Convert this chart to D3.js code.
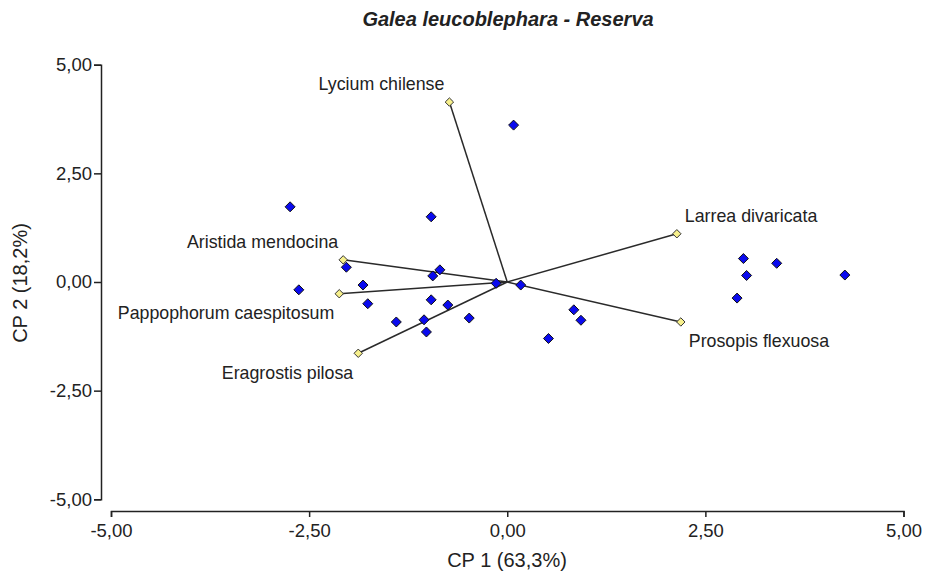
<!DOCTYPE html>
<html>
<head>
<meta charset="utf-8">
<script src="https://cdn.jsdelivr.net/npm/d3@7/dist/d3.min.js"></script>
<style>
body{margin:0;background:#fff;}
text{font-family:"Liberation Sans",Arial,sans-serif;fill:#222;}
</style>
</head>
<body>
<svg id="chart" width="925" height="574"></svg>
<script>
const title = "Galea leucoblephara - Reserva";
const xTitle = "CP 1 (63,3%)";
const yTitle = "CP 2 (18,2%)";
const xTicks = [-5, -2.5, 0, 2.5, 5];
const yTicks = [-5, -2.5, 0, 2.5, 5];

// observation scores (CP1, CP2)
const obsX = [0.08,-2.74,-0.96,-2.03,-0.85,-0.94,-2.63,-1.82,-0.14,0.17,-1.76,-0.96,-0.75,-0.48,-1.40,-1.05,-1.02,0.52,0.84,0.93,2.98,3.40,3.02,4.26,2.90];
const obsY = [3.61,1.73,1.50,0.34,0.28,0.14,-0.18,-0.07,-0.03,-0.07,-0.50,-0.41,-0.53,-0.83,-0.92,-0.87,-1.15,-1.30,-0.64,-0.88,0.54,0.43,0.15,0.16,-0.37];

// variable vectors
const varNames = ["Lycium chilense","Aristida mendocina","Pappophorum caespitosum","Eragrostis pilosa","Larrea divaricata","Prosopis flexuosa"];
const varX = [-0.73,-2.07,-2.12,-1.88,2.14,2.19];
const varY = [4.14,0.51,-0.27,-1.64,1.11,-0.92];

const fmt = v => d3.format(".2f")(v).replace(".", ",").replace("\u2212", "-");

const svg = d3.select("#chart");
const x = d3.scaleLinear().domain([-5, 5]).range([111, 903.5]);
const y = d3.scaleLinear().domain([-5, 5]).range([499.3, 64.7]);

// axes
const xAxis = svg.append("g").attr("transform", "translate(0,511)")
  .call(d3.axisBottom(x).tickValues(xTicks).tickFormat(fmt).tickSizeOuter(0).tickSize(6).tickPadding(4));
const yAxis = svg.append("g").attr("transform", "translate(101,0)")
  .call(d3.axisLeft(y).tickValues(yTicks).tickFormat(fmt).tickSizeOuter(0).tickSize(7).tickPadding(2));
[xAxis, yAxis].forEach(a => {
  a.select(".domain").attr("stroke", "#222").attr("stroke-width", 1.5);
  a.selectAll(".tick line").attr("stroke", "#222").attr("stroke-width", 1.5);
  a.selectAll(".tick text").style("font-size", "18.5px").attr("fill", "#222");
});
xAxis.selectAll(".tick text").attr("dy", "0.85em");

// titles
svg.append("text").attr("x", 508).attr("y", 26).attr("text-anchor", "middle")
  .style("font-size", "20px").style("font-weight", "bold").style("font-style", "italic").text(title);
svg.append("text").attr("x", 507).attr("y", 567).attr("text-anchor", "middle")
  .style("font-size", "20px").text(xTitle);
svg.append("text").attr("transform", "translate(27,283) rotate(-90)").attr("text-anchor", "middle")
  .style("font-size", "20px").text(yTitle);

// vectors
const vars = varNames.map((n, i) => ({name: n, x: varX[i], y: varY[i]}));
svg.append("g").selectAll("line").data(vars).join("line")
  .attr("x1", x(0)).attr("y1", y(0))
  .attr("x2", d => x(d.x)).attr("y2", d => y(d.y))
  .attr("stroke", "#2a2a2a").attr("stroke-width", 1.5);

const diamond = s => `M0,${-s}L${s},0L0,${s}L${-s},0Z`;

// observations
const obs = obsX.map((v, i) => ({x: v, y: obsY[i]}));
svg.append("g").selectAll("path").data(obs).join("path")
  .attr("d", diamond(5))
  .attr("transform", d => `translate(${x(d.x)},${y(d.y)})`)
  .attr("fill", "#0a0aee").attr("stroke", "#111").attr("stroke-width", 1);

// vector end markers
svg.append("g").selectAll("path").data(vars).join("path")
  .attr("d", diamond(4.2))
  .attr("transform", d => `translate(${x(d.x)},${y(d.y)})`)
  .attr("fill", "#f7f08c").attr("stroke", "#333").attr("stroke-width", 1);

// labels
svg.append("g").selectAll("text").data(vars).join("text")
  .attr("x", d => x(d.x) + (d.x < 0 ? -5 : 8))
  .attr("y", d => y(d.y) + (d.y > 0 ? -18 : 19))
  .attr("dy", "0.35em")
  .attr("text-anchor", d => d.x < 0 ? "end" : "start")
  .style("font-size", "17.8px")
  .text(d => d.name);
</script>
</body>
</html>
